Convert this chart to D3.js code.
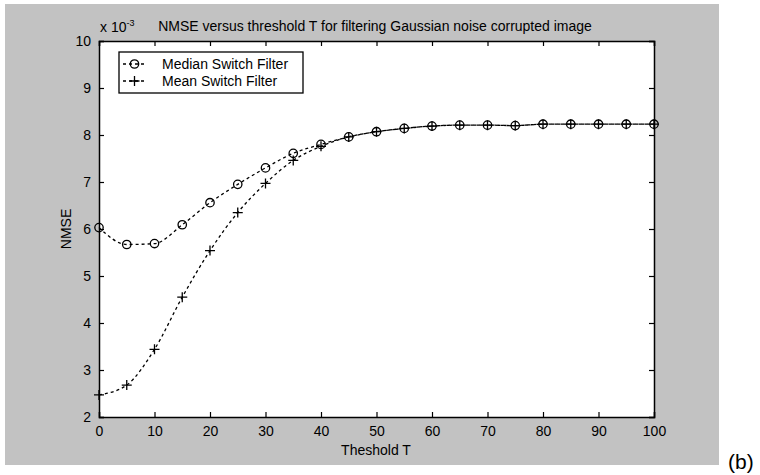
<!DOCTYPE html>
<html>
<head>
<meta charset="utf-8">
<script src="https://cdn.jsdelivr.net/npm/d3@7"></script>
<style>
  html, body { margin: 0; padding: 0; background: #ffffff; }
  svg { display: block; }
  text { font-family: "Liberation Sans", Arial, Helvetica, sans-serif; fill: #000; }
</style>
</head>
<body>
<svg id="chart" width="760" height="475"></svg>
<script>
// ---- data ----
const thresholds = [0, 5, 10, 15, 20, 25, 30, 35, 40, 45, 50, 55, 60, 65, 70, 75, 80, 85, 90, 95, 100];
const medianNMSE = [6.03, 5.67, 5.69, 6.09, 6.56, 6.95, 7.30, 7.61, 7.80, 7.96, 8.07, 8.14, 8.19, 8.21, 8.21, 8.20, 8.23, 8.23, 8.23, 8.23, 8.23];
const meanNMSE   = [2.47, 2.68, 3.44, 4.55, 5.54, 6.35, 6.97, 7.46, 7.76, 7.96, 8.07, 8.14, 8.19, 8.21, 8.21, 8.20, 8.23, 8.23, 8.23, 8.23, 8.23];
const xTicks = [0, 10, 20, 30, 40, 50, 60, 70, 80, 90, 100];
const yTicks = [2, 3, 4, 5, 6, 7, 8, 9, 10];
const seriesNames = ["Median Switch Filter", "Mean Switch Filter"];
const titleText = "NMSE versus threshold T for filtering Gaussian noise corrupted image";
const xLabel = "Theshold T";
const yLabel = "NMSE";

const svg = d3.select("#chart");

// figure background (grey)
svg.append("rect").attr("x", 5).attr("y", 4).attr("width", 714).attr("height", 461)
  .attr("fill", "#c2c2c2");

const m = {left: 99, right: 654, top: 41, bottom: 417};
const x = d3.scaleLinear().domain([0, 100]).range([m.left, m.right]);
const y = d3.scaleLinear().domain([2, 10]).range([m.bottom, m.top]);

// plot area
svg.append("rect").attr("x", m.left).attr("y", m.top)
  .attr("width", m.right - m.left).attr("height", m.bottom - m.top)
  .attr("fill", "#ffffff");

const fontSize = 14;

// axes
const gx = svg.append("g").attr("transform", `translate(0,${m.bottom})`)
  .call(d3.axisBottom(x).tickValues(xTicks).tickSize(-5).tickPadding(9).tickFormat(d3.format("d")));
const gxTop = svg.append("g").attr("transform", `translate(0,${m.top})`)
  .call(d3.axisTop(x).tickValues(xTicks).tickSize(-5).tickFormat(""));
const gy = svg.append("g").attr("transform", `translate(${m.left},0)`)
  .call(d3.axisLeft(y).tickValues(yTicks).tickSize(-5).tickPadding(8).tickFormat(d3.format("d")));
const gyR = svg.append("g").attr("transform", `translate(${m.right},0)`)
  .call(d3.axisRight(y).tickValues(yTicks).tickSize(-5).tickFormat(""));

[gx, gxTop, gy, gyR].forEach(g => {
  g.select(".domain").attr("stroke", "#000").attr("stroke-width", 1.5);
  g.selectAll(".tick line").attr("stroke", "#000").attr("stroke-width", 1.2);
  g.selectAll("text").attr("font-size", fontSize)
    .attr("font-family", '"Liberation Sans", Arial, sans-serif').attr("fill", "#000");
});

// title and labels
svg.append("text").attr("x", 375).attr("y", 31).attr("text-anchor", "middle")
  .attr("font-size", fontSize).text(titleText);
const exp = svg.append("text").attr("x", 100).attr("y", 32).attr("font-size", fontSize);
exp.append("tspan").text("x 10");
exp.append("tspan").attr("dy", -6).attr("font-size", 9).text("-3");

svg.append("text").attr("x", 376).attr("y", 455).attr("text-anchor", "middle")
  .attr("font-size", fontSize).text(xLabel);
svg.append("text").attr("transform", `translate(71,${(m.top + m.bottom) / 2}) rotate(-90)`)
  .attr("text-anchor", "middle").attr("font-size", fontSize).text(yLabel);

// "(b)" caption
svg.append("text").attr("x", 728).attr("y", 469).attr("font-size", 21)
  .attr("font-family", '"Liberation Serif", "Times New Roman", serif').text("(b)");

// lines
const line = d3.line().x(d => x(d[0])).y(d => y(d[1])).curve(d3.curveMonotoneX);
const medData = thresholds.map((t, i) => [t, medianNMSE[i]]);
const meanData = thresholds.map((t, i) => [t, meanNMSE[i]]);

[medData, meanData].forEach(data => {
  svg.append("path").datum(data).attr("d", line)
    .attr("fill", "none").attr("stroke", "#000").attr("stroke-width", 1.3)
    .attr("stroke-dasharray", "3,3");
});

function drawCircle(g, cx, cy) {
  g.append("circle").attr("cx", cx).attr("cy", cy).attr("r", 4.2)
    .attr("fill", "none").attr("stroke", "#000").attr("stroke-width", 1.3);
}
function drawPlus(g, cx, cy) {
  const s = 5;
  g.append("path").attr("d", `M${cx - s},${cy}H${cx + s}M${cx},${cy - s}V${cy + s}`)
    .attr("stroke", "#000").attr("stroke-width", 1.3).attr("fill", "none");
}

const markers = svg.append("g");
medData.forEach(d => drawCircle(markers, x(d[0]), y(d[1])));
meanData.forEach(d => drawPlus(markers, x(d[0]), y(d[1])));

// legend
const lg = svg.append("g");
lg.append("rect").attr("x", 119).attr("y", 52).attr("width", 184).attr("height", 41)
  .attr("fill", "#fff").attr("stroke", "#000").attr("stroke-width", 1.3);
const rows = [64, 81];
seriesNames.forEach((name, i) => {
  const yy = rows[i];
  lg.append("line").attr("x1", 123).attr("x2", 146).attr("y1", yy).attr("y2", yy)
    .attr("stroke", "#000").attr("stroke-width", 1.3).attr("stroke-dasharray", "3,3");
  if (i === 0) drawCircle(lg, 134.5, yy); else drawPlus(lg, 134.5, yy);
  lg.append("text").attr("x", 162).attr("y", yy + 5).attr("font-size", fontSize).text(name);
});
</script>
</body>
</html>
